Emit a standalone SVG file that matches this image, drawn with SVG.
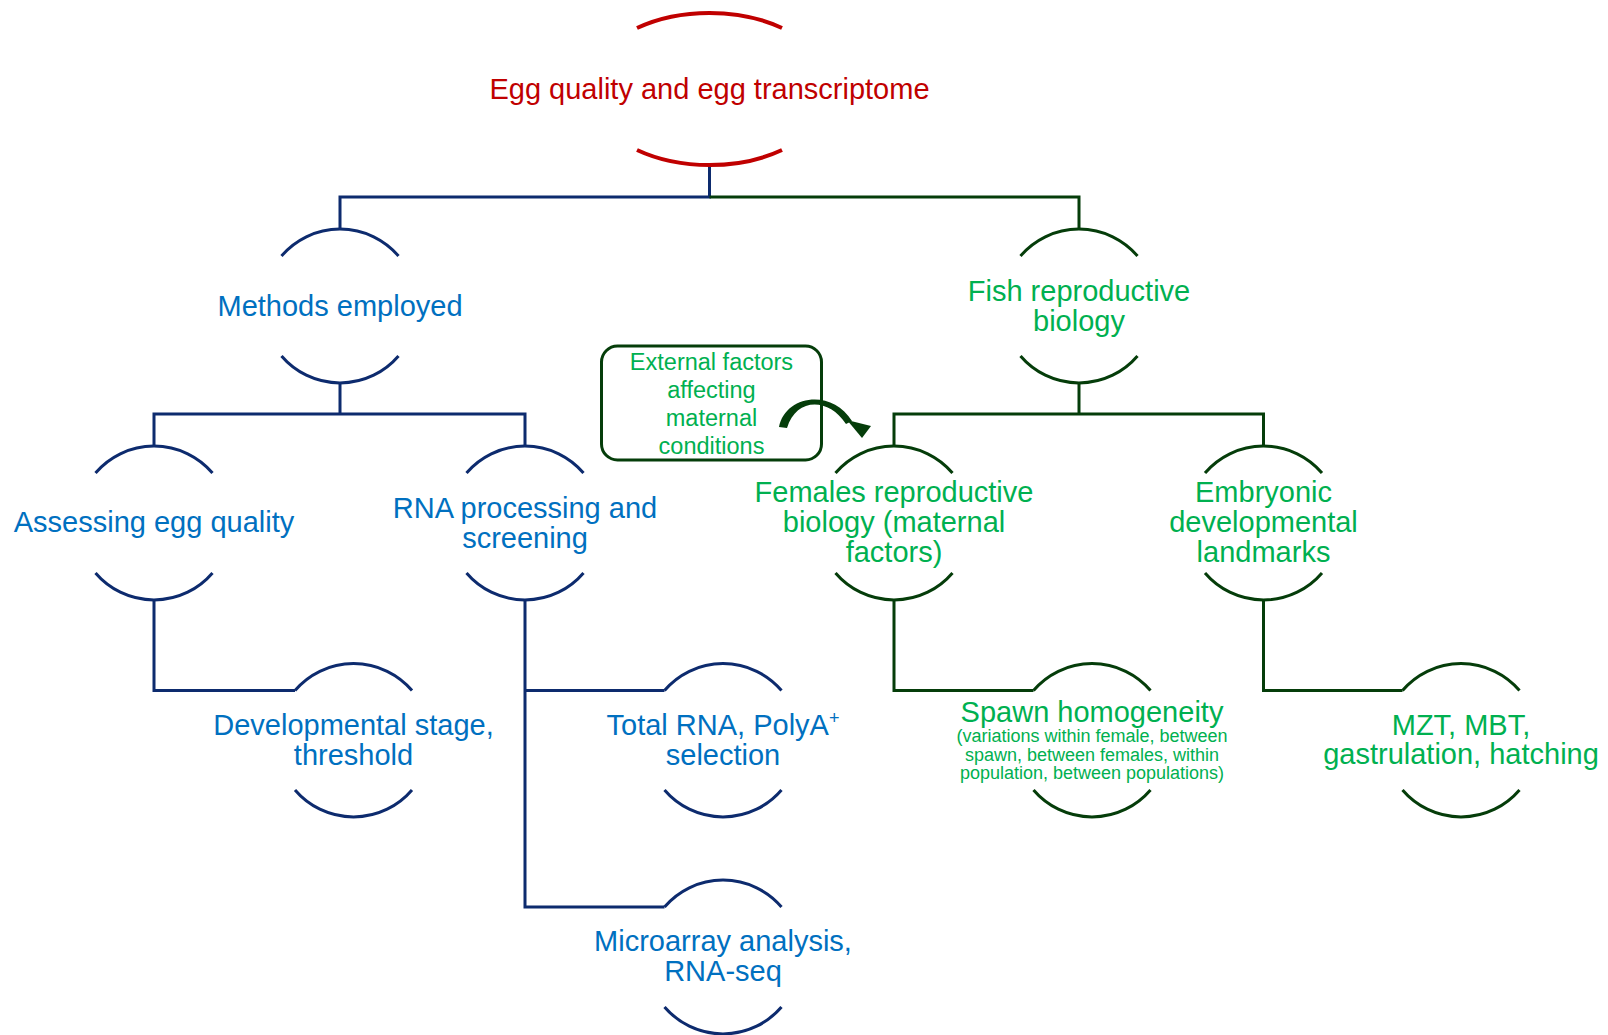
<svg xmlns="http://www.w3.org/2000/svg" width="1608" height="1035" viewBox="0 0 1608 1035">
<style>
  text { font-family: "Liberation Sans", Arial, sans-serif; font-size: 29px; text-anchor: middle; }
  .blue { fill: #0070C0; }
  .green { fill: #00B050; }
  .red { fill: #C00000; }
  .small { font-size: 18px; }
  .boxtxt { font-size: 23.5px; }
  .navy { fill: none; stroke: #0D2B6E; stroke-width: 3; }
  .dgreen { fill: none; stroke: #053D0A; stroke-width: 3; }
  .redarc { fill: none; stroke: #C00000; stroke-width: 4; }
</style>
<rect width="1608" height="1035" fill="#FFFFFF"/>

<g id="connectors">
  <path class="navy" d="M709.5,164 V197 H340 V229"/>
  <path class="navy" d="M340,383 V414"/>
  <path class="navy" d="M154,446 V414 H525 V446"/>
  <path class="navy" d="M154,600 V690.5 H295"/>
  <path class="navy" d="M525,600 V907 H664.5"/>
  <path class="navy" d="M525,690.5 H664.5"/>
  <path class="dgreen" d="M709.5,197 H1079 V229"/>
  <path class="dgreen" d="M1079,383 V414"/>
  <path class="dgreen" d="M894,446 V414 H1263.5 V446"/>
  <path class="dgreen" d="M894,600 V690.5 H1033.5"/>
  <path class="dgreen" d="M1263.5,600 V690.5 H1402.5"/>
</g>

<g id="node-top">
  <path class="redarc" d="M637,28 A121,75.5 0 0 1 782,28"/>
  <path class="redarc" d="M637,150 A121,75.5 0 0 0 782,150"/>
  <text class="red" x="709.5" y="98.5">Egg quality and egg transcriptome</text>
</g>

<g id="node-methods">
  <path class="navy" d="M281.5,256 A77,77 0 0 1 398.5,256"/>
  <path class="navy" d="M281.5,356 A77,77 0 0 0 398.5,356"/>
  <text class="blue" x="340" y="316">Methods employed</text>
</g>

<g id="node-fish">
  <path class="dgreen" d="M1020.5,256 A77,77 0 0 1 1137.5,256"/>
  <path class="dgreen" d="M1020.5,356 A77,77 0 0 0 1137.5,356"/>
  <text class="green" x="1079" y="301">Fish reproductive</text>
  <text class="green" x="1079" y="331">biology</text>
</g>

<g id="node-assessing">
  <path class="navy" d="M95.5,473 A77,77 0 0 1 212.5,473"/>
  <path class="navy" d="M95.5,573 A77,77 0 0 0 212.5,573"/>
  <text class="blue" x="154" y="532">Assessing egg quality</text>
</g>

<g id="node-rna">
  <path class="navy" d="M466.5,473 A77,77 0 0 1 583.5,473"/>
  <path class="navy" d="M466.5,573 A77,77 0 0 0 583.5,573"/>
  <text class="blue" x="525" y="518">RNA processing and</text>
  <text class="blue" x="525" y="548">screening</text>
</g>

<g id="node-females">
  <path class="dgreen" d="M835.5,473 A77,77 0 0 1 952.5,473"/>
  <path class="dgreen" d="M835.5,573 A77,77 0 0 0 952.5,573"/>
  <text class="green" x="894" y="502">Females reproductive</text>
  <text class="green" x="894" y="532">biology (maternal</text>
  <text class="green" x="894" y="562">factors)</text>
</g>

<g id="node-embryonic">
  <path class="dgreen" d="M1205,473 A77,77 0 0 1 1322,473"/>
  <path class="dgreen" d="M1205,573 A77,77 0 0 0 1322,573"/>
  <text class="green" x="1263.5" y="502">Embryonic</text>
  <text class="green" x="1263.5" y="532">developmental</text>
  <text class="green" x="1263.5" y="562">landmarks</text>
</g>

<g id="node-developmental">
  <path class="navy" d="M295,690.5 A77,77 0 0 1 412,690.5"/>
  <path class="navy" d="M295,790 A77,77 0 0 0 412,790"/>
  <text class="blue" x="353.5" y="734.5">Developmental stage,</text>
  <text class="blue" x="353.5" y="764.5">threshold</text>
</g>

<g id="node-totalrna">
  <path class="navy" d="M664.5,690.5 A77,77 0 0 1 781.5,690.5"/>
  <path class="navy" d="M664.5,790 A77,77 0 0 0 781.5,790"/>
  <text class="blue" x="723" y="734.5">Total RNA, PolyA<tspan font-size="18" dy="-11">+</tspan></text>
  <text class="blue" x="723" y="764.5">selection</text>
</g>

<g id="node-spawn">
  <path class="dgreen" d="M1033.5,690.5 A77,77 0 0 1 1150.5,690.5"/>
  <path class="dgreen" d="M1033.5,790 A77,77 0 0 0 1150.5,790"/>
  <text class="green" x="1092" y="721.5">Spawn homogeneity</text>
  <text class="green small" x="1092" y="742">(variations within female, between</text>
  <text class="green small" x="1092" y="760.5">spawn, between females, within</text>
  <text class="green small" x="1092" y="779">population, between populations)</text>
</g>

<g id="node-mzt">
  <path class="dgreen" d="M1402.5,690.5 A77,77 0 0 1 1519.5,690.5"/>
  <path class="dgreen" d="M1402.5,790 A77,77 0 0 0 1519.5,790"/>
  <text class="green" x="1461" y="734.5">MZT, MBT,</text>
  <text class="green" x="1461" y="764">gastrulation, hatching</text>
</g>

<g id="node-microarray">
  <path class="navy" d="M664.5,907 A77,77 0 0 1 781.5,907"/>
  <path class="navy" d="M664.5,1007 A77,77 0 0 0 781.5,1007"/>
  <text class="blue" x="723" y="951">Microarray analysis,</text>
  <text class="blue" x="723" y="981">RNA-seq</text>
</g>

<g id="node-external">
  <rect x="601.5" y="346" width="220" height="114" rx="16" ry="16" fill="none" stroke="#053D0A" stroke-width="3"/>
  <text class="green boxtxt" x="711.5" y="369.5">External factors</text>
  <text class="green boxtxt" x="711.5" y="397.5">affecting</text>
  <text class="green boxtxt" x="711.5" y="425.5">maternal</text>
  <text class="green boxtxt" x="711.5" y="453.5">conditions</text>
</g>

<g id="arrow-external">
  <path d="M779,427 C785,395 832,388 852,421 L846,424 C828,397 796,398 787,428 Z" fill="#053D0A"/>
  <polygon points="847,420 871,426 862,438" fill="#053D0A"/>
</g>
</svg>
